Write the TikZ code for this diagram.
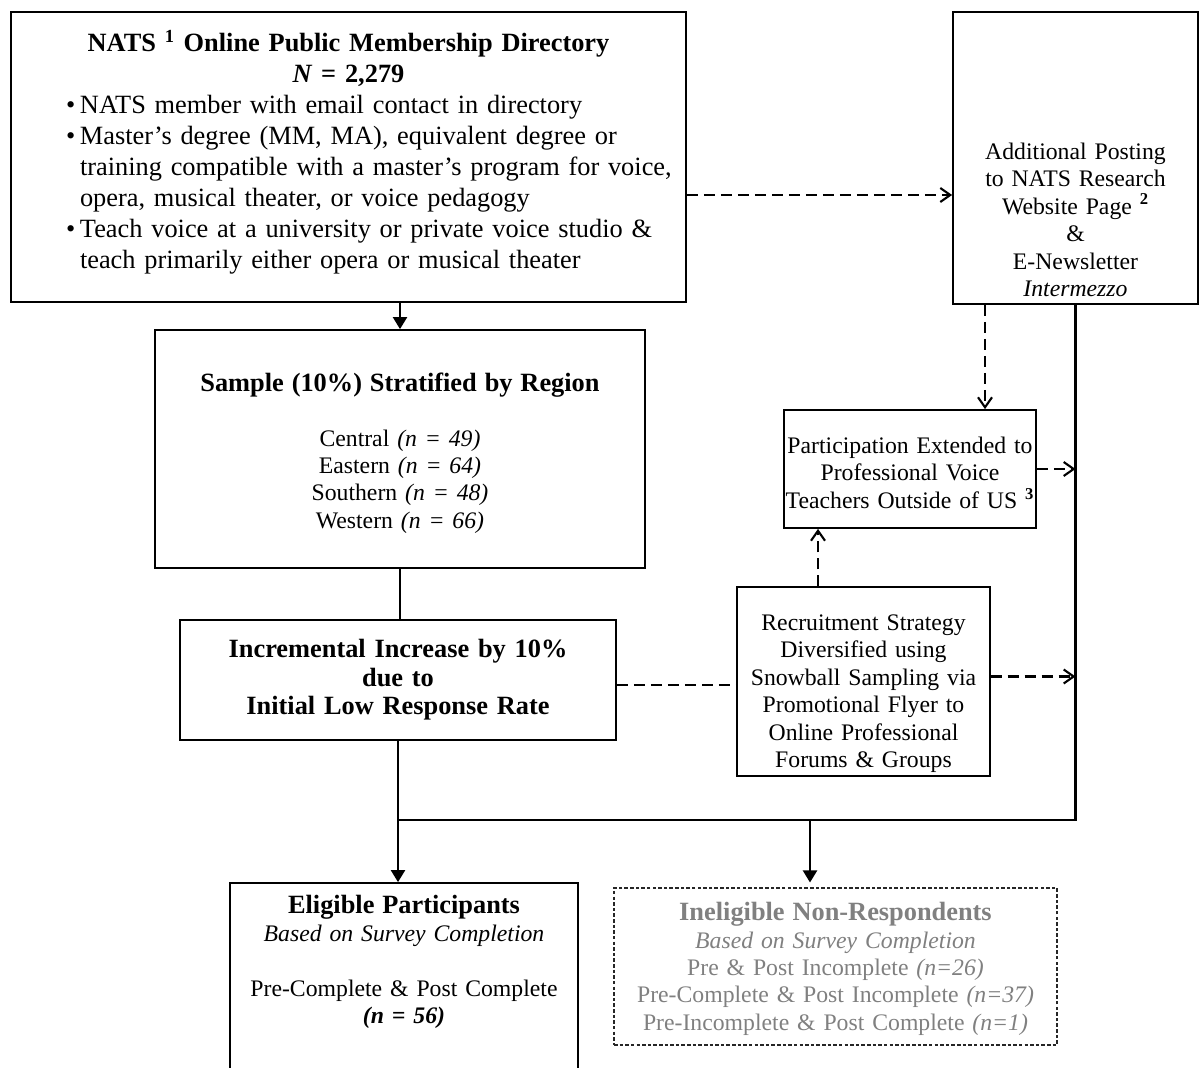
\documentclass[tikz,border=0pt]{standalone}
\usepackage{fontspec}
\setmainfont{Liberation Serif}
\usetikzlibrary{arrows.meta}

\definecolor{faded}{gray}{0.5}
\newcommand{\blt}{\par\noindent\hangindent=0.28cm\hangafter=1\makebox[0.28cm][l]{\textbullet}}
\newcommand{\boxtitle}[1]{{\fontsize{15}{15.6}\selectfont\bfseries #1}}

\begin{document}
\begin{tikzpicture}[
	box/.style = {draw, line width=1pt, align=center, inner xsep=0pt, inner ysep=2pt,
		font=\fontsize{13.5}{15.6}\selectfont},
	flow/.style = {line width=1.2pt, -{Triangle[length=2.4mm, width=2.8mm]}},
	dflow/.style = {line width=1.2pt, dash pattern=on 2.2mm off 1.2mm,
		-{Straight Barb[length=2mm, width=2.8mm]}},
	link/.style = {line width=1.2pt},
	dline/.style = {line width=1.2pt, dash pattern=on 2.2mm off 1.2mm}]
	\useasboundingbox (0,0) rectangle (24,-21.34);

	% boxes
	\node[box, minimum width=13.5cm, minimum height=5.8cm, text width=13.1cm, align=left,
		font=\fontsize{15}{17.6}\selectfont] (dir) at (6.97,-3.14) {%
		{\centering\bfseries NATS \textsuperscript{1} Online Public Membership Directory\\
		\textit{N} = 2,279\par}
		\leftskip=0.9cm
		\blt NATS member with email contact in directory
		\blt Master’s degree (MM, MA), equivalent degree or\newline
		training compatible with a master’s program for voice,\newline
		opera, musical theater, or voice pedagogy
		\blt Teach voice at a university or private voice studio \&\newline
		teach primarily either opera or musical theater\rule[-0.3cm]{0pt}{0pt}\par};
	\node[box, minimum width=4.9cm, minimum height=5.84cm, text width=4.9cm] (post) at (21.51,-3.16)
		{\rule{0pt}{2.8cm}Additional Posting\\ to NATS Research\\
		Website Page \textbf{\textsuperscript{2}}\\ \&\\ E-Newsletter\\ \textit{Intermezzo}};
	\node[box, minimum width=9.8cm, minimum height=4.76cm, text width=9.8cm] (sample) at (8,-8.98)
		{\rule{0pt}{0.53cm}\boxtitle{Sample (10\%) Stratified by Region}\\[15.6pt]
		Central \textit{(n = 49)}\\ Eastern \textit{(n = 64)}\\
		Southern \textit{(n = 48)}\\ Western \textit{(n = 66)}};
	\node[box, minimum width=5.04cm, minimum height=2.36cm, text width=5.04cm] (part) at (18.2,-9.38)
		{\rule{0pt}{0.48cm}Participation Extended to\\ Professional Voice\\
		Teachers Outside of US \textbf{\textsuperscript{3}}};
	\node[box, line width=0.7pt, minimum width=5.06cm, minimum height=3.78cm, text width=5.06cm] (recr)
		at (17.27,-13.63) {\rule{0pt}{0.8cm}Recruitment Strategy\\ Diversified using\\
		Snowball Sampling via\\ Promotional Flyer to\\ Online Professional\\ Forums \& Groups};
	\node[box, minimum width=8.72cm, minimum height=2.4cm, text width=8.72cm,
		font=\fontsize{15}{16.2}\selectfont\bfseries] (incr) at (7.96,-13.6)
		{Incremental Increase by 10\%\\ due to\\ Initial Low Response Rate};
	\node[box, minimum width=6.96cm, minimum height=4.34cm, text width=6.96cm] (elig) at (8.08,-19.83)
		{\boxtitle{Eligible Participants}\\ \textit{Based on Survey Completion}\\[15.6pt]
		Pre-Complete \& Post Complete\\ \textbf{\textit{(n = 56)}}\rule[-1.28cm]{0pt}{0pt}};
	\node[box, draw=black!85, line width=0.6pt, dash pattern=on 2pt off 1.2pt, text=faded,
		minimum width=8.86cm, minimum height=3.14cm, text width=8.86cm] (inel) at (16.71,-19.33)
		{\rule{0pt}{0.46cm}\boxtitle{Ineligible Non-Respondents}\\ \textit{Based on Survey Completion}\\
		Pre \& Post Incomplete \textit{(n=26)}\\
		Pre-Complete \& Post Incomplete \textit{(n=37)}\\
		Pre-Incomplete \& Post Complete \textit{(n=1)}};

	% helper points
	\coordinate (dirout) at ([yshift=-0.76cm]dir.east);
	\coordinate (postout) at ([xshift=-1.81cm]post.south);
	\coordinate (recrout) at ([xshift=-0.91cm]recr.north);
	\coordinate (recrside) at ([yshift=0.1cm]recr.east);
	\coordinate (incrside) at ([yshift=-0.1cm]incr.east);
	\coordinate (hub) at (incr.south |- 0,-16.4);
	\coordinate (hub2) at (16.2,-16.4);

	% connectors
	\draw[dflow] (dirout) -- (dirout -| post.west);
	\draw[flow] (dir.south -| sample.north) -- (sample.north);
	\draw[dflow] (postout) -- (postout |- part.north);
	\draw[dflow] (part.east) -- (part.east -| post.south);
	\draw[dflow] (recrout) -- (recrout |- part.south);
	\draw[dflow] (recrside) -- (recrside -| post.south);
	\draw[link] (sample.south) -- (sample.south |- incr.north);
	\draw[dline] (incrside) -- (incrside -| recr.west);
	\draw[link] (incr.south) |- (post.south |- hub) -- (post.south);
	\draw[flow] (hub) -- (hub |- elig.north);
	\draw[flow, shorten >=0.1cm] (hub2) -- (hub2 |- inel.north);
\end{tikzpicture}
\end{document}
